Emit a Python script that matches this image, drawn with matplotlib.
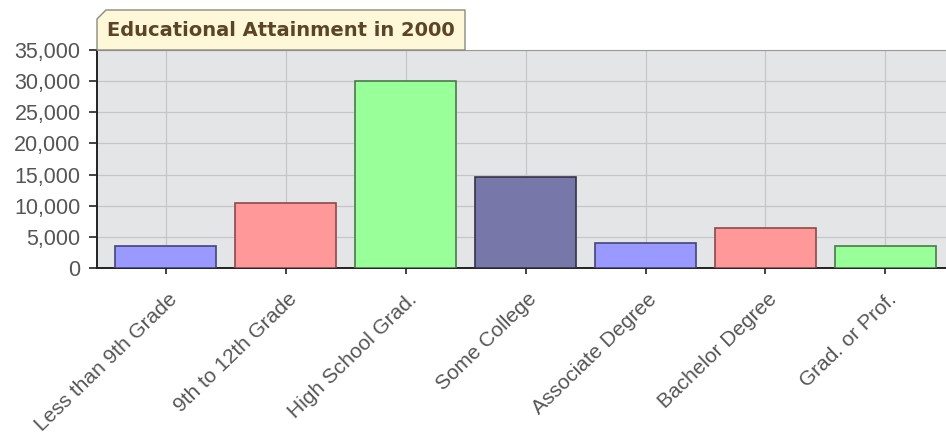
import matplotlib.pyplot as plt
from matplotlib.patches import Polygon
from matplotlib.ticker import FuncFormatter
from matplotlib.transforms import ScaledTranslation

categories = ['Less than 9th Grade', '9th to 12th Grade', 'High School Grad.',
              'Some College', 'Associate Degree', 'Bachelor Degree', 'Grad. or Prof.']
values = [3600, 10400, 30100, 14650, 3950, 6500, 3500]
fills = ['#9999ff', '#ff9999', '#99ff99', '#7777aa', '#9999ff', '#ff9999', '#99ff99']
edges = ['#44447a', '#8a4a4a', '#4a7a4a', '#33334a', '#44447a', '#8a4a4a', '#4a7a4a']
title = 'Educational Attainment in 2000'

plt.rcParams['font.family'] = ['Liberation Sans', 'DejaVu Sans']

fig = plt.figure(figsize=(9.46, 4.38), dpi=100)
W, H = 946, 438
left, right = 96.5, 96.5 + 69 * 2 + 120 * 6
ax = fig.add_axes([left / W, (H - 268) / H, (right - left) / W, 218 / H])
ax.set_facecolor('#e4e5e7')

x = range(len(categories))
ax.bar(x, values, width=0.84, color=fills, edgecolor=edges, linewidth=1.2, zorder=3)

ax.set_xlim(-0.575, 6.575)
ax.set_ylim(0, 35000)
ax.set_yticks(range(0, 35001, 5000))
ax.yaxis.set_major_formatter(FuncFormatter(lambda v, p: f'{int(v):,}'))
ax.set_xticks(list(x))
ax.set_xticklabels(categories, rotation=44, ha='right', rotation_mode='anchor')

ax.grid(True, color='#c6c6ca', linewidth=0.9, zorder=0)
ax.tick_params(axis='both', colors='#222222', width=1.2, labelcolor='#555555')
ax.tick_params(axis='y', labelsize=15.5, length=5.5, pad=6)
ax.tick_params(axis='x', labelsize=15, length=4.5, pad=11)

# nudge rotated labels to the right like the original
shift = ScaledTranslation(0.02, 0, fig.dpi_scale_trans)
for lab in ax.get_xticklabels():
    lab.set_transform(lab.get_transform() + shift)

for s in ['left', 'bottom']:
    ax.spines[s].set_color('#222222')
    ax.spines[s].set_linewidth(1.4)
ax.spines['top'].set_color('#999999')
ax.spines['right'].set_visible(False)

# title tab with cut corner
x0, x1, y0, y1, c = 97, 465, H - 50, H - 10, 9
pts = [(x0, y0), (x0, y1 - c), (x0 + c, y1), (x1, y1), (x1, y0)]
tab = Polygon([(px / W, py / H) for px, py in pts], closed=True,
              transform=fig.transFigure, facecolor='#fff8d8', edgecolor='#8a8a80',
              linewidth=1)
fig.patches.append(tab)
fig.text(107 / W, (H - 30) / H, title, fontsize=14, fontweight='bold',
         family='DejaVu Sans', color='#5a4526', va='center', ha='left')

fig.savefig('out.png', dpi=100)
